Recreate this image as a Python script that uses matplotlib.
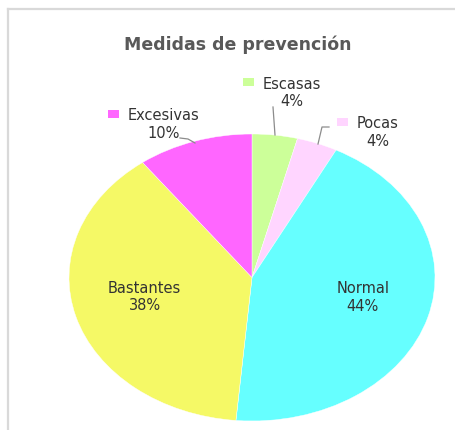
import numpy as np
import matplotlib
matplotlib.use("Agg")
import matplotlib.pyplot as plt
from matplotlib.patches import Rectangle
from matplotlib.lines import Line2D

# ---- data ----
categories = ["Escasas", "Pocas", "Normal", "Bastantes", "Excesivas"]
values = [4.0, 3.6, 43.8, 38.4, 10.2]
colors = ["#CCFF99", "#FFD5FF", "#66FFFF", "#F5F966", "#FF66FF"]
title = "Medidas de prevención"

W, H = 455, 431
fig = plt.figure(figsize=(W / 100, H / 100), dpi=100)
fig.patch.set_facecolor("white")

# frame (light gray border on top and left)
fig.add_artist(Line2D([8 / W, 1.0], [1 - 10 / H, 1 - 10 / H], color="#D9D9D9", lw=1.6))
fig.add_artist(Line2D([8 / W, 8 / W], [0, 1 - 10 / H], color="#D9D9D9", lw=1.6))

ax = fig.add_axes([0, 0, 1, 1])
cx, cy, rx, ry = 252, 278.5, 183, 143.5  # pie centre / radii in pixels


def px(x, y):
    """pixel (from top-left) -> data coords"""
    return (x - cx) / rx, (cy - y) / ry


wedges, _ = ax.pie(values, colors=colors, startangle=90, counterclock=False,
                   radius=1.0, wedgeprops=dict(edgecolor="white", linewidth=0.3))
ax.set_aspect("auto")
ax.set_xlim(-cx / rx, (W - cx) / rx)
ax.set_ylim((cy - H) / ry, cy / ry)
ax.axis("off")

total = sum(values)
pct = [f"{round(v / total * 100):.0f}%" for v in values]
txtc = "#333333"
fs = 10.5

# inside labels (Normal, Bastantes)
for i in (2, 3):
    w = wedges[i]
    mid = np.deg2rad((w.theta1 + w.theta2) / 2)
    r = 0.62
    ax.text(r * np.cos(mid) + 0.01, r * np.sin(mid) + 0.04, f"{categories[i]}\n{pct[i]}",
            ha="center", va="center", fontsize=fs, color=txtc, linespacing=1.2)

# outside labels with legend keys
outside = {
    0: dict(sq=(243, 79), txt=(263, 84), pc=(292, 102),
            line=[(273, 108), (275, 136)]),
    1: dict(sq=(337, 119), txt=(357, 124), pc=(378, 142),
            line=[(329, 128), (322, 128), (318, 145)]),
    4: dict(sq=(108, 111), txt=(128, 116), pc=(164, 134),
            line=[(180, 139), (188, 140), (195, 144)]),
}
for i, o in outside.items():
    sx, sy = o["sq"]
    x0, y0 = px(sx, sy + 8)
    ax.add_patch(Rectangle((x0, y0), 11 / rx, 8 / ry, facecolor=colors[i],
                           edgecolor="none", clip_on=False))
    tx, ty = px(*o["txt"])
    ax.text(tx, ty, categories[i], ha="left", va="center", fontsize=fs, color=txtc)
    qx, qy = px(*o["pc"])
    ax.text(qx, qy, pct[i], ha="center", va="center", fontsize=fs, color=txtc)
    pts = [px(*p) for p in o["line"]]
    ax.plot([p[0] for p in pts], [p[1] for p in pts], color="#8C8C8C", lw=0.9,
            clip_on=False)

fig.text(237.5 / W, 1 - 45 / H, title, ha="center", va="center",
         fontsize=12.5, fontweight="bold", color="#595959")

fig.savefig("out.png", dpi=100)
